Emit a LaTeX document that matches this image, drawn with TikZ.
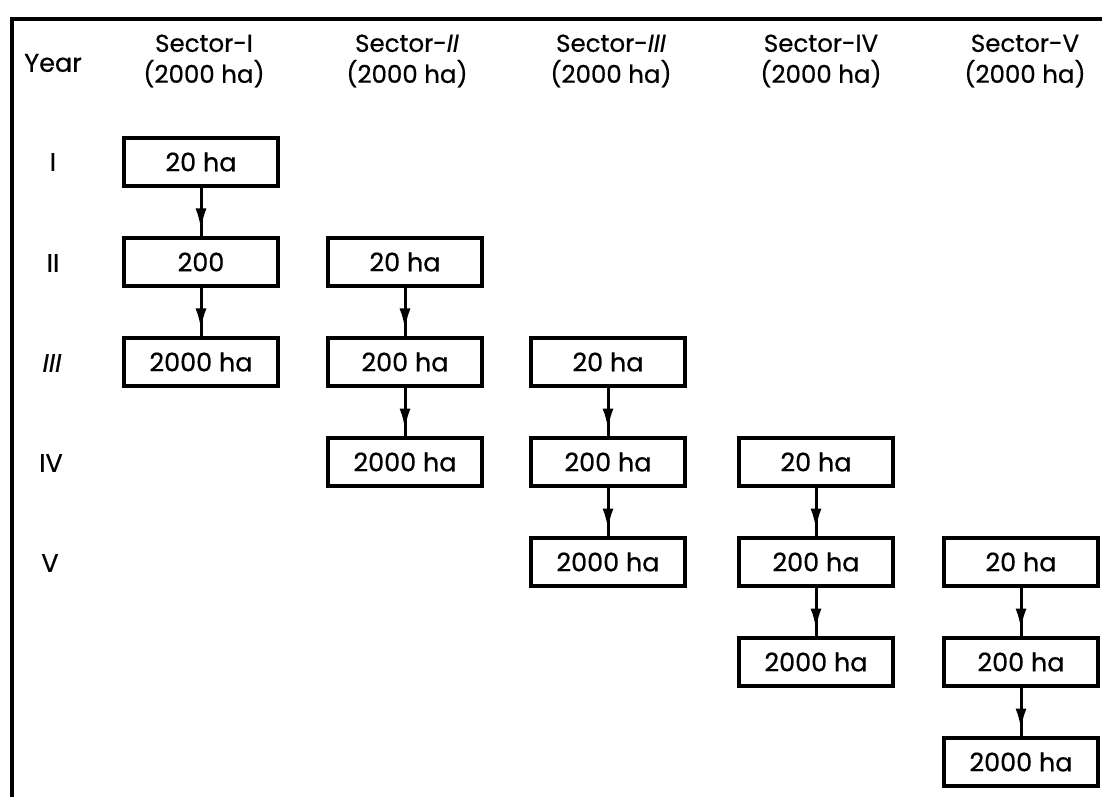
\documentclass[tikz,border=0pt]{standalone}
\usepackage{fontspec}
\setmainfont{Poppins}[FakeBold=0.6]
\usetikzlibrary{arrows.meta,decorations.markings}

\begin{document}
\begin{tikzpicture}[x=1pt,y=-1pt,
    every node/.style={font=\fontsize{25.5}{28}\selectfont},
    cell/.style={draw,line width=3.4pt,minimum width=154pt,minimum height=48pt,inner sep=0pt},
    head/.style={align=center,font=\fontsize{24.5}{31}\selectfont},
    yearlbl/.style={anchor=center},
    flow/.style={line width=3pt,
      postaction={decorate},
      decoration={markings,mark=at position 0.86 with {\arrow{Latex[length=21pt,width=11pt]}}}},
    frame/.style={line width=3.4pt}]
  \useasboundingbox (0,0) rectangle (1102,797);

  % frame: top rule and left rule
  \coordinate (ftr) at (1102,19);
  \coordinate (ftl) at (12,19);
  \coordinate (fbl) at (12,797);
  \draw[frame] (ftr) -- (ftl) -- (fbl);

  % column headings
  \node[yearlbl] (year) at (53,63) {Year};
  \node[head] (h1) at (204,61) {Sector-I\\(2000 ha)};
  \node[head] (h2) at (407,61) {Sector-\textit{II}\\(2000 ha)};
  \node[head] (h3) at (611,61) {Sector-\textit{III}\\(2000 ha)};
  \node[head] (h4) at (821,61) {Sector-IV\\(2000 ha)};
  \node[head] (h5) at (1025,61) {Sector-V\\(2000 ha)};

  % year labels
  \node[yearlbl] (y1) at (53,162) {I};
  \node[yearlbl] (y2) at (53,263) {II};
  \node[yearlbl] (y3) at (52,363) {\textit{III}};
  \node[yearlbl] (y4) at (51,463) {IV};
  \node[yearlbl] (y5) at (50,563) {V};

  % sector I
  \node[cell] (a1) at (201,162) {20 ha};
  \node[cell] (a2) at (201,262) {200};
  \node[cell] (a3) at (201,362) {2000 ha};
  % sector II
  \node[cell] (b1) at (405,262) {20 ha};
  \node[cell] (b2) at (405,362) {200 ha};
  \node[cell] (b3) at (405,462) {2000 ha};
  % sector III
  \node[cell] (c1) at (608,362) {20 ha};
  \node[cell] (c2) at (608,462) {200 ha};
  \node[cell] (c3) at (608,562) {2000 ha};
  % sector IV
  \node[cell] (d1) at (816,462) {20 ha};
  \node[cell] (d2) at (816,562) {200 ha};
  \node[cell] (d3) at (816,662) {2000 ha};
  % sector V
  \node[cell] (e1) at (1021,562) {20 ha};
  \node[cell] (e2) at (1021,662) {200 ha};
  \node[cell] (e3) at (1021,762) {2000 ha};

  % yearly expansion arrows
  \foreach \s in {a,b,c,d,e}{
    \draw[flow] (\s1.south) -- (\s2.north);
    \draw[flow] (\s2.south) -- (\s3.north);
  }
\end{tikzpicture}
\end{document}
